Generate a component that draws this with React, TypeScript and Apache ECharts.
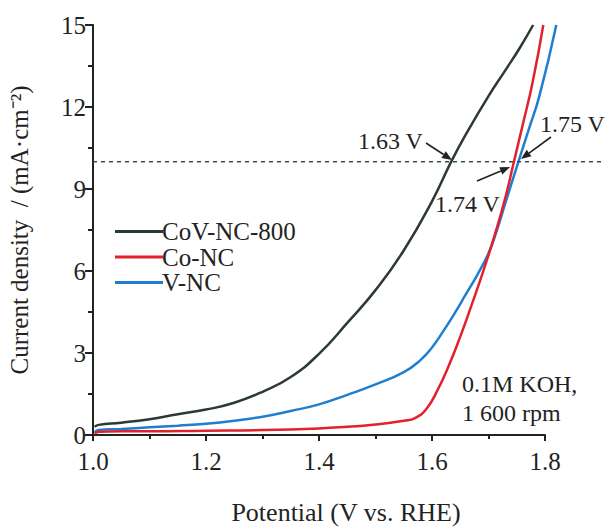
import React, { useEffect, useRef } from "react";
import * as echarts from "echarts";

const seriesNames = ["CoV-NC-800", "Co-NC", "V-NC"];
const seriesColors = ["#2c3936", "#e3202e", "#1e7fd0"];

const xCoV = [1.003, 1.01, 1.05, 1.1, 1.15, 1.2, 1.25, 1.3, 1.35, 1.4, 1.45, 1.5, 1.55, 1.6, 1.634, 1.66, 1.7, 1.73, 1.755, 1.779];
const yCoV = [0.3, 0.37, 0.45, 0.58, 0.76, 0.93, 1.18, 1.58, 2.12, 2.97, 4.1, 5.3, 6.75, 8.55, 10, 11.0, 12.4, 13.35, 14.15, 15];

const xCo = [1.003, 1.01, 1.05, 1.1, 1.2, 1.3, 1.4, 1.45, 1.5, 1.55, 1.57, 1.59, 1.61, 1.63, 1.65, 1.67, 1.69, 1.71, 1.73, 1.745, 1.76, 1.778, 1.797];
const yCo = [0.05, 0.12, 0.14, 0.14, 0.16, 0.18, 0.24, 0.3, 0.38, 0.52, 0.62, 0.95, 1.65, 2.55, 3.6, 4.75, 5.95, 7.25, 8.7, 10, 11.3, 12.9, 15];

const xV = [1.003, 1.01, 1.05, 1.1, 1.15, 1.2, 1.25, 1.3, 1.35, 1.4, 1.45, 1.5, 1.55, 1.58, 1.6, 1.62, 1.64, 1.66, 1.68, 1.7, 1.715, 1.73, 1.753, 1.77, 1.79, 1.82];
const yV = [0.1, 0.18, 0.22, 0.28, 0.34, 0.41, 0.52, 0.67, 0.88, 1.12, 1.47, 1.85, 2.3, 2.75, 3.2, 3.8, 4.45, 5.15, 5.85, 6.65, 7.5, 8.5, 10, 11.1, 12.4, 15];

const dashX = [1.0, 1.91];
const dashY = [10, 10];

const xTicks = { min: 1.0, max: 1.8, interval: 0.2 };
const xDataMax = 1.9;
const yTicks = { min: 0, max: 15, interval: 3 };

const annotations = [
  { text: "1.63 V", x: 358, y: 141 },
  { text: "1.75 V", x: 540, y: 124 },
  { text: "1.74 V", x: 435, y: 204 },
  { text: "0.1M KOH,", x: 462, y: 384 },
  { text: "1 600 rpm", x: 462, y: 413 },
];

const arrows = [
  [426, 143, 452, 160],
  [551, 137, 521, 159],
  [477, 181, 510, 167],
];

const FONT = "'Liberation Serif', 'Times New Roman', serif";
const INK = "#1f2422";

const W = 608;
const GL = 93;
const GR = 63;
const GT = 25;
const GB = 92;

function zip(xs: number[], ys: number[]) {
  return xs.map((x, i) => [x, ys[i]]);
}

function arrow(x1: number, y1: number, x2: number, y2: number) {
  const dx = x2 - x1;
  const dy = y2 - y1;
  const len = Math.sqrt(dx * dx + dy * dy);
  const ux = dx / len;
  const uy = dy / len;
  const hl = 10;
  const hw = 4;
  const bx = x2 - ux * hl;
  const by = y2 - uy * hl;
  return {
    type: "group",
    children: [
      {
        type: "line",
        shape: { x1, y1, x2: bx, y2: by },
        style: { stroke: INK, lineWidth: 1.6 },
      },
      {
        type: "polygon",
        shape: {
          points: [
            [x2, y2],
            [bx - uy * hw, by + ux * hw],
            [bx + uy * hw, by - ux * hw],
          ],
        },
        style: { fill: INK },
      },
    ],
  };
}

export default function App() {
  const ref = useRef<HTMLDivElement>(null);
  useEffect(() => {
    if (!ref.current) return;
    const chart = echarts.init(ref.current, null, { renderer: "svg" });
    const data = [zip(xCoV, yCoV), zip(xCo, yCo), zip(xV, yV)];
    const plotW = W - GL - GR;
    const wideW = (plotW * (xDataMax - xTicks.min)) / (xTicks.max - xTicks.min);
    const wideRight = W - GL - wideW;
    chart.setOption({
      animation: false,
      backgroundColor: "#ffffff",
      grid: [
        { left: GL, right: GR, top: GT, bottom: GB, containLabel: false, outerBoundsMode: "none" },
        { left: GL, right: wideRight, top: GT, bottom: GB, containLabel: false, outerBoundsMode: "none" },
      ],
      legend: {
        data: seriesNames,
        orient: "vertical",
        left: 110,
        top: 214,
        icon: "rect",
        itemWidth: 48,
        itemHeight: 3,
        itemGap: 0.5,
        textStyle: { fontFamily: FONT, fontSize: 25, color: INK, padding: [0, 0, 0, -6] },
      },
      xAxis: [
        {
          type: "value",
          gridIndex: 0,
          min: xTicks.min,
          max: xTicks.max,
          interval: xTicks.interval,
          name: "Potential (V vs. RHE)",
          nameLocation: "middle",
          nameGap: 64,
          nameTextStyle: { fontFamily: FONT, fontSize: 26, color: INK, padding: [0, 0, 0, 54] },
          axisLine: { lineStyle: { color: INK, width: 2 } },
          axisTick: { length: 6, lineStyle: { color: INK, width: 2 } },
          minorTick: { show: true, splitNumber: 2, length: 4, lineStyle: { color: INK, width: 2 } },
          splitLine: { show: false },
          axisLabel: {
            fontFamily: FONT,
            fontSize: 25,
            color: INK,
            margin: 14,
            formatter: (v: number) => v.toFixed(1),
          },
        },
        {
          type: "value",
          gridIndex: 1,
          min: xTicks.min,
          max: xDataMax,
          show: false,
        },
      ],
      yAxis: [
        {
          type: "value",
          gridIndex: 0,
          min: yTicks.min,
          max: yTicks.max,
          interval: yTicks.interval,
          name: "Current density  / (mA·cm⁻²)",
          nameLocation: "middle",
          nameGap: 61,
          nameTextStyle: { fontFamily: FONT, fontSize: 25, color: INK },
          axisLine: { show: true, lineStyle: { color: INK, width: 2 } },
          axisTick: { show: true, length: 8, lineStyle: { color: INK, width: 2 } },
          minorTick: { show: true, splitNumber: 2, length: 5, lineStyle: { color: INK, width: 2 } },
          splitLine: { show: false },
          axisLabel: { fontFamily: FONT, fontSize: 25, color: INK, margin: 7 },
        },
        {
          type: "value",
          gridIndex: 1,
          min: yTicks.min,
          max: yTicks.max,
          show: false,
        },
      ],
      series: [
        ...seriesNames.map((name, i) => ({
          name,
          type: "line",
          xAxisIndex: 1,
          yAxisIndex: 1,
          data: data[i],
          showSymbol: false,
          symbol: "none",
          smooth: 0.5,
          clip: false,
          color: seriesColors[i],
          lineStyle: { color: seriesColors[i], width: 2.5 },
          z: 3 - i,
        })),
        {
          name: "10 mA",
          type: "line",
          xAxisIndex: 1,
          yAxisIndex: 1,
          data: zip(dashX, dashY),
          showSymbol: false,
          symbol: "none",
          clip: false,
          lineStyle: { color: "#3a4a48", width: 1.5, type: [4, 4] },
          z: 1,
          silent: true,
        },
      ],
      graphic: [
        ...annotations.map((a) => ({
          type: "text",
          left: a.x,
          top: a.y - 12,
          style: { text: a.text, fontFamily: FONT, fontSize: 24, fill: INK },
          z: 10,
        })),
        ...arrows.map((a) => ({ ...arrow(a[0], a[1], a[2], a[3]), z: 10 })),
      ],
    });
    return () => chart.dispose();
  }, []);
  return <div ref={ref} style={{ position: "absolute", left: 0, top: 0, width: 608, height: 527 }} />;
}
